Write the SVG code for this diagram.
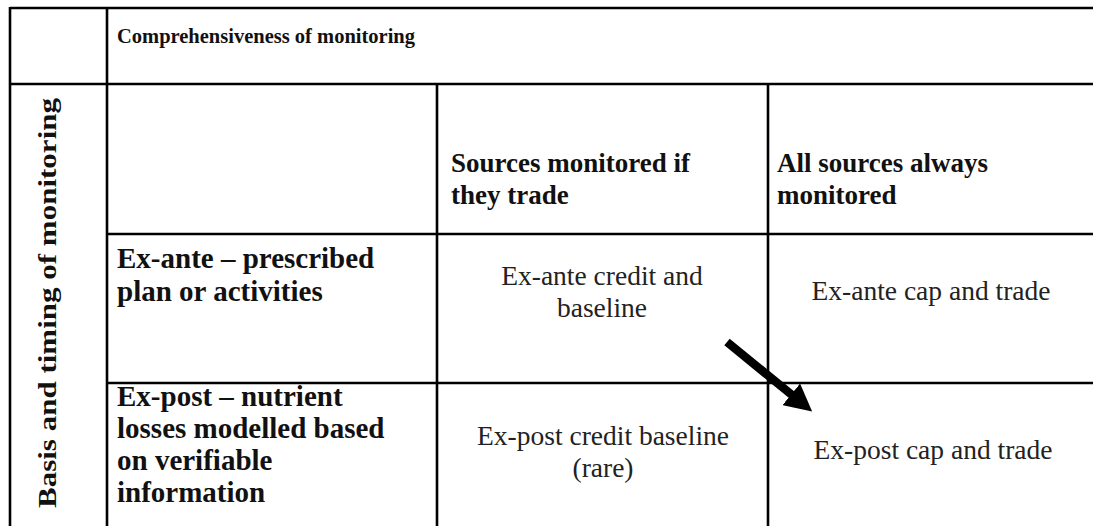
<svg xmlns="http://www.w3.org/2000/svg" width="1093" height="526" viewBox="0 0 1093 526">
  <style>
    .grid { stroke: #000; stroke-width: 2.6; fill: none; }
    .hd { font-family: 'Liberation Serif', 'DejaVu Serif', serif; font-weight: bold; fill: #111; }
    .bd { font-family: 'Liberation Serif', 'DejaVu Serif', serif; font-size: 27.5px; fill: #222; }
    .b27 { font-size: 27px; }
    .b29 { font-size: 29px; }
  </style>
  <defs>
    <marker id="arrowHead" markerUnits="userSpaceOnUse" markerWidth="27" markerHeight="28" viewBox="0 0 27 28" refX="1" refY="14" orient="auto">
      <path d="M0,0 L27,14 L0,28 z" fill="#000"/>
    </marker>
  </defs>
  <rect width="1093" height="526" fill="#fff"/>

  <!-- table rules -->
  <g id="table-grid" class="grid">
    <line x1="10" y1="8" x2="1093" y2="8"/>
    <line x1="10" y1="84" x2="1093" y2="84"/>
    <line x1="107" y1="234" x2="1093" y2="234"/>
    <line x1="107" y1="383" x2="1093" y2="383"/>
    <line x1="10" y1="7" x2="10" y2="526"/>
    <line x1="107" y1="7" x2="107" y2="526"/>
    <line x1="437" y1="84" x2="437" y2="526"/>
    <line x1="768" y1="84" x2="768" y2="526"/>
  </g>

  <g id="header-comprehensiveness">
    <text class="hd" x="117" y="43" font-size="20.5">Comprehensiveness of monitoring</text>
  </g>

  <g id="header-basis-timing">
    <text class="hd" font-size="25" textLength="410" lengthAdjust="spacingAndGlyphs" transform="translate(56,508) rotate(-90)">Basis and timing of monitoring</text>
  </g>

  <g id="col-sources-if-trade">
    <text class="hd b27" x="451" y="172">Sources monitored if</text>
    <text class="hd b27" x="451" y="204">they trade</text>
  </g>

  <g id="col-all-sources">
    <text class="hd b27" x="777" y="172">All sources always</text>
    <text class="hd b27" x="777" y="204">monitored</text>
  </g>

  <g id="row-ex-ante">
    <text class="hd b29" x="117" y="268">Ex-ante – prescribed</text>
    <text class="hd b29" x="117" y="301">plan or activities</text>
  </g>

  <g id="row-ex-post">
    <text class="hd b29" x="117" y="406">Ex-post – nutrient</text>
    <text class="hd b29" x="117" y="438">losses modelled based</text>
    <text class="hd b29" x="117" y="470">on verifiable</text>
    <text class="hd b29" x="117" y="502">information</text>
  </g>

  <g id="cell-ex-ante-credit" text-anchor="middle">
    <text class="bd" x="602" y="285">Ex-ante credit and</text>
    <text class="bd" x="602" y="317">baseline</text>
  </g>

  <g id="cell-ex-ante-cap">
    <text class="bd" x="931" y="300" text-anchor="middle">Ex-ante cap and trade</text>
  </g>

  <g id="cell-ex-post-credit" text-anchor="middle">
    <text class="bd" x="603" y="445">Ex-post credit baseline</text>
    <text class="bd" x="603" y="477">(rare)</text>
  </g>

  <g id="cell-ex-post-cap">
    <text class="bd" x="933" y="459" text-anchor="middle">Ex-post cap and trade</text>
  </g>

  <!-- shift arrow from ex-ante credit toward ex-post cap and trade -->
  <g id="connectors">
    <line x1="727" y1="342" x2="792" y2="395" stroke="#000" stroke-width="8.5" marker-end="url(#arrowHead)"/>
  </g>
</svg>
